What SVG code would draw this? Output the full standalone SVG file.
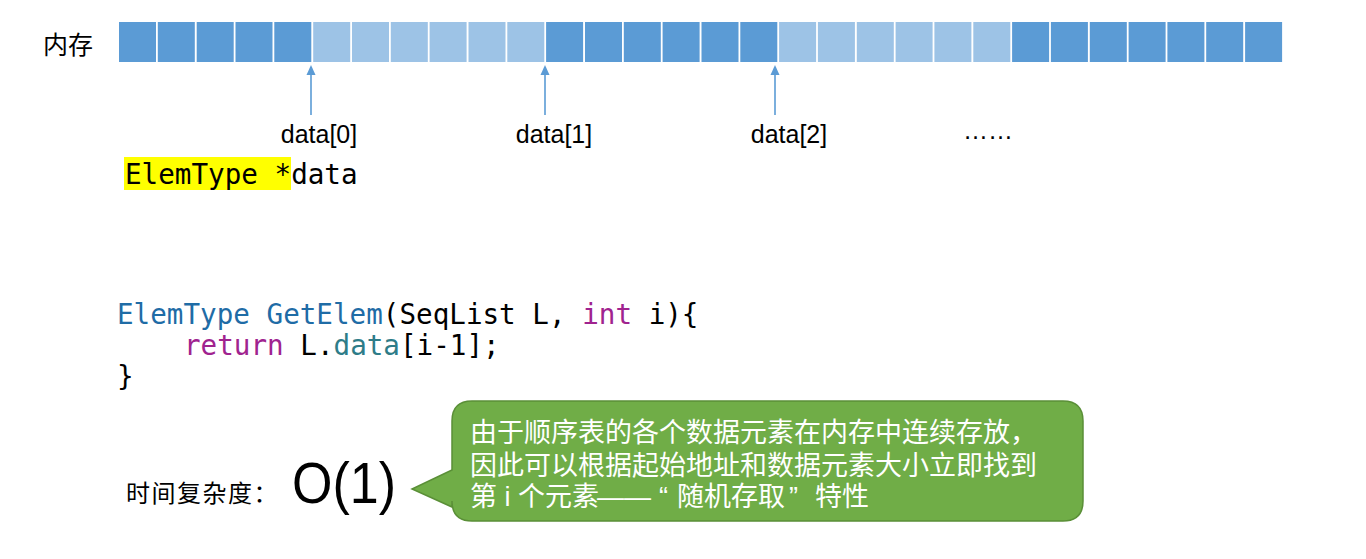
<svg xmlns="http://www.w3.org/2000/svg" width="1366" height="559" viewBox="0 0 1366 559">
<style>
.d{fill:#5B9BD5}
.l{fill:#9DC3E6}
.lbl{font-family:"Liberation Sans",Arial,sans-serif;font-size:25px;fill:#000}
.cjk{font-family:"Noto Sans CJK SC",sans-serif;fill:#000}
.ctext{font-family:"Liberation Sans","Noto Sans CJK SC",sans-serif;font-size:27px;fill:#fff}
.mono{font-family:"DejaVu Sans Mono","Liberation Mono",monospace;font-size:27.6px;fill:#000}
.kw{fill:#A0238F}
.ty{fill:#1F6CA6}
.fd{fill:#2E7C88}
.arr{stroke:#5B9BD5;stroke-width:1.6;fill:none}
</style>
<defs>
<marker id="ah" markerWidth="10" markerHeight="10" refX="8" refY="5" orient="auto" markerUnits="userSpaceOnUse" viewBox="0 0 10 10">
<path d="M0 0.5 L10 5 L0 9.5 Z" fill="#5B9BD5"/>
</marker>
</defs>
<rect width="1366" height="559" fill="#fff"/>
<g id="memory-label"><text class="cjk" x="43" y="54" font-size="25">内存</text></g>
<g id="memory">
<rect class="d" x="119" y="22" width="37" height="40"/>
<rect class="d" x="157.8" y="22" width="37" height="40"/>
<rect class="d" x="196.7" y="22" width="37" height="40"/>
<rect class="d" x="235.5" y="22" width="37" height="40"/>
<rect class="d" x="274.3" y="22" width="37" height="40"/>
<rect class="l" x="313.2" y="22" width="37" height="40"/>
<rect class="l" x="352" y="22" width="37" height="40"/>
<rect class="l" x="390.8" y="22" width="37" height="40"/>
<rect class="l" x="429.6" y="22" width="37" height="40"/>
<rect class="l" x="468.5" y="22" width="37" height="40"/>
<rect class="l" x="507.3" y="22" width="37" height="40"/>
<rect class="d" x="546.1" y="22" width="37" height="40"/>
<rect class="d" x="585" y="22" width="37" height="40"/>
<rect class="d" x="623.8" y="22" width="37" height="40"/>
<rect class="d" x="662.6" y="22" width="37" height="40"/>
<rect class="d" x="701.5" y="22" width="37" height="40"/>
<rect class="d" x="740.3" y="22" width="37" height="40"/>
<rect class="l" x="779.1" y="22" width="37" height="40"/>
<rect class="l" x="817.9" y="22" width="37" height="40"/>
<rect class="l" x="856.8" y="22" width="37" height="40"/>
<rect class="l" x="895.6" y="22" width="37" height="40"/>
<rect class="l" x="934.4" y="22" width="37" height="40"/>
<rect class="l" x="973.3" y="22" width="37" height="40"/>
<rect class="d" x="1012.1" y="22" width="37" height="40"/>
<rect class="d" x="1050.9" y="22" width="37" height="40"/>
<rect class="d" x="1089.8" y="22" width="37" height="40"/>
<rect class="d" x="1128.6" y="22" width="37" height="40"/>
<rect class="d" x="1167.4" y="22" width="37" height="40"/>
<rect class="d" x="1206.2" y="22" width="37" height="40"/>
<rect class="d" x="1245.1" y="22" width="37" height="40"/>
</g>
<g id="connectors">
<line class="arr" x1="311" y1="115" x2="311" y2="67" marker-end="url(#ah)"/>
<line class="arr" x1="545" y1="115" x2="545" y2="67" marker-end="url(#ah)"/>
<line class="arr" x1="775" y1="115" x2="775" y2="67" marker-end="url(#ah)"/>
</g>
<g id="labels">
<text class="lbl" x="319" y="143" text-anchor="middle">data[0]</text>
<text class="lbl" x="554" y="143" text-anchor="middle">data[1]</text>
<text class="lbl" x="789" y="143" text-anchor="middle">data[2]</text>
<text class="lbl" x="988" y="139" text-anchor="middle" font-size="16">……</text>
</g>
<g id="decl">
<rect x="124" y="157" width="167" height="33" fill="#FFFF00"/>
<text class="mono" x="125" y="184" font-size="27.3">ElemType *data</text>
</g>
<g id="code">
<text class="mono" x="117" y="324"><tspan class="ty">ElemType GetElem</tspan>(SeqList L, <tspan class="kw">int</tspan> i){</text>
<text class="mono" x="184" y="355"><tspan class="kw">return</tspan> L.<tspan class="fd">data</tspan>[i-1];</text>
<text class="mono" x="117" y="386">}</text>
</g>
<g id="complexity">
<text class="cjk" x="126" y="502" font-size="24" letter-spacing="1.5">时间复杂度：</text>
<text x="292" y="503" font-family="'Liberation Sans',Arial,sans-serif" font-size="58" textLength="104" lengthAdjust="spacingAndGlyphs" fill="#000">O(1)</text>
</g>
<g id="callout">
<path d="M472 401 H1063 Q1083 401 1083 421 V501 Q1083 521 1063 521 H472 Q452 521 452 501 V507 L412 489 L452 470 V421 Q452 401 472 401 Z" fill="#70AD47" stroke="#5A8F37" stroke-width="1.5"/>
<text class="ctext" x="470" y="442">由于顺序表的各个数据元素在内存中连续存放，</text>
<text class="ctext" x="470" y="475">因此可以根据起始地址和数据元素大小立即找到</text>
<text class="ctext" x="470" y="506">第 i 个元素<tspan x="597">—</tspan><tspan x="624">—</tspan><tspan x="659">“</tspan><tspan x="677">随机存取</tspan><tspan x="789">”</tspan><tspan x="815">特性</tspan></text>
</g>
</svg>
